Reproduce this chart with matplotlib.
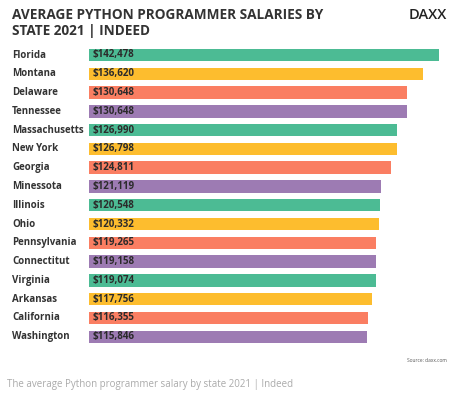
import matplotlib.pyplot as plt

states = ["Florida", "Montana", "Delaware", "Tennessee", "Massachusetts", "New York",
          "Georgia", "Minessota", "Illinois", "Ohio", "Pennsylvania", "Connectitut",
          "Virginia", "Arkansas", "California", "Washington"]
salaries = [142478, 136620, 130648, 130648, 126990, 126798, 124811, 121119,
            120548, 120332, 119265, 119158, 119074, 117756, 116355, 115846]
palette = ["#4cbb94", "#fdbd2e", "#fa7e62", "#9d7bb3"]
colors = [palette[i % 4] for i in range(len(states))]

W, H = 474, 397
fig = plt.figure(figsize=(W / 100, H / 100), dpi=100)
plt.rcParams['font.family'] = ['Open Sans', 'DejaVu Sans']

# axes placed in pixel terms
x0, x1 = 89, 450
y_top, y_bot = 45.6, 346.1
ax = fig.add_axes([x0 / W, 1 - y_bot / H, (x1 - x0) / W, (y_bot - y_top) / H])

xmin = 12850
xmax = xmin + (x1 - x0) / 0.0027
ypos = list(range(len(states)))
ax.barh(ypos, [s - xmin for s in salaries], left=xmin, height=0.66, color=colors)
ax.set_xlim(xmin, xmax)
ax.set_ylim(len(states) - 0.5, -0.5)
ax.axis("off")

for y, s, v in zip(ypos, states, salaries):
    ax.text(xmin + 1500, y, "${:,}".format(v), va="center", ha="left",
            fontsize=7, fontweight="bold", color="#2b2b2b")
    fig.text(12 / W, 1 - (55 + y * 18.78) / H, s, va="center", ha="left",
             fontsize=7, fontweight="bold", color="#333333")

fig.text(12 / W, 1 - 15 / H, "AVERAGE PYTHON PROGRAMMER SALARIES BY",
         fontsize=9.8, fontweight="bold", color="#333333", va="center")
fig.text(12 / W, 1 - 31 / H, "STATE 2021 | INDEED",
         fontsize=9.8, fontweight="bold", color="#333333", va="center")
fig.text(447 / W, 1 - 15 / H, "DAXX", fontsize=10.5, fontweight="semibold",
         color="#222222", ha="right", va="center")

fig.text(447 / W, 1 - 360 / H, "Source: daxx.com", fontsize=3.5,
         color="#555555", ha="right", va="center")
fig.text(7 / W, 1 - 384 / H,
         "The average Python programmer salary by state 2021 | Indeed",
         fontsize=7, color="#aaaaaa", ha="left", va="center")

fig.savefig("out.png", dpi=100)
